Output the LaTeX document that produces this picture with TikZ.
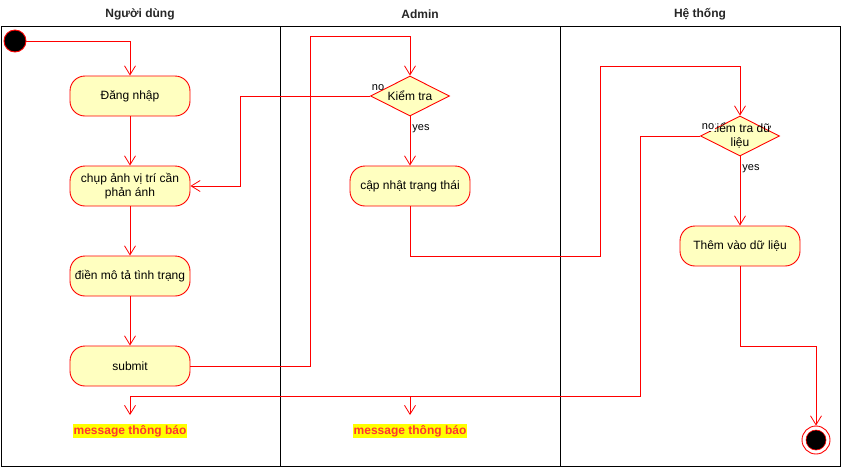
\documentclass[tikz,border=0pt]{standalone}
\usepackage{fontspec}
\setmainfont{Liberation Sans}
\usetikzlibrary{arrows.meta,shapes.geometric}
\definecolor{actfill}{HTML}{FFFFC0}
\definecolor{msgbg}{HTML}{FFFF00}
\definecolor{msgred}{HTML}{FF3333}
\begin{document}
\begin{tikzpicture}[x=1pt,y=-1pt,font=\fontsize{12}{14}\selectfont,
  act/.style={draw=red,line width=0.9pt,fill=actfill,rounded corners=15pt,minimum width=120pt,minimum height=40pt,align=center,inner sep=2pt},
  dec/.style={diamond,draw=red,line width=0.9pt,fill=actfill,minimum width=79pt,minimum height=40pt,inner sep=0pt},
  flow/.style={draw=red,line width=0.8pt,-{Straight Barb[length=9pt,width=11pt]}},
  line/.style={draw=red,line width=0.8pt},
  lbl/.style={font=\fontsize{11}{13}\selectfont,inner sep=0.5pt},
  msg/.style={fill=msgbg,text=msgred,font=\fontsize{12}{14}\selectfont\bfseries,inner sep=1pt},
  hdr/.style={font=\fontsize{12}{14}\selectfont\bfseries,text=black!85}]
\useasboundingbox (0,0) rectangle (841,467);
% lanes
\draw[line width=1pt] (1,26) rectangle (840,466);
\draw[line width=1pt] (280,26) -- (280,466);
\draw[line width=1pt] (560,26) -- (560,466);
\node[hdr] (h1) at (140,14) {Người dùng};
\node[hdr] (h2) at (420,14) {Admin};
\node[hdr] (h3) at (700,14) {Hệ thống};
% nodes
\node[circle,draw=red,fill=black,minimum size=22pt,inner sep=0pt,line width=0.9pt] (start) at (15,41) {};
\node[act] (a1) at (130,96) {Đăng nhập};
\node[act] (a2) at (130,186) {chụp ảnh vị trí cần\\phản ánh};
\node[act] (a3) at (130,276) {điền mô tả tình trạng};
\node[act] (a4) at (130,366) {submit};
\node[dec] (d1) at (410,96) {};
\node (d1t) at (d1) {Kiểm tra};
\node[act] (a5) at (410,186) {cập nhật trạng thái};
\node[dec] (d2) at (740,136) {};
\node[align=center] (d2t) at (d2) {Kiểm tra dữ\\liệu};
\node[act] (a6) at (740,246) {Thêm vào dữ liệu};
\node[circle,draw=red,fill=white,minimum size=28pt,inner sep=0pt,line width=0.9pt] (end) at (816,440) {};
\filldraw[draw=red,fill=black,line width=0.6pt] (end) circle (10pt);
\node[msg] (m1) at (130,431) {message thông báo};
\node[msg] (m2) at (410,431) {message thông báo};
% connectors
\draw[flow] (start.east) -| (a1.north);
\draw[flow] (a1.south) -- (a2.north);
\draw[flow] (a2.south) -- (a3.north);
\draw[flow] (a3.south) -- (a4.north);
\draw[flow] (a4.east) -- (310,366) -- (310,36) -| (d1.north);
\draw[flow] (d1.west) -- (240,96) |- (a2.east);
\node[lbl] (no1) at (378,88) {no};
\draw[flow] (d1.south) -- (a5.north);
\node[lbl] (yes1) at (421,129) {yes};
\draw[flow] (a5.south) |- (600,256) -- (600,66) -| (d2.north);
\draw[flow,shorten >=9pt] (d2.west) -- (640,136) -- (640,396) -| (m1.north);
\draw[flow,shorten >=9pt] (410,396) -- (m2.north);
\node[lbl,fill=white] (no2) at (708,127) {no};
\draw[flow] (d2.south) -- (a6.north);
\node[lbl] (yes2) at (751,169) {yes};
\draw[flow] (a6.south) -- (740,346) -| (end.north);
\end{tikzpicture}
\end{document}
